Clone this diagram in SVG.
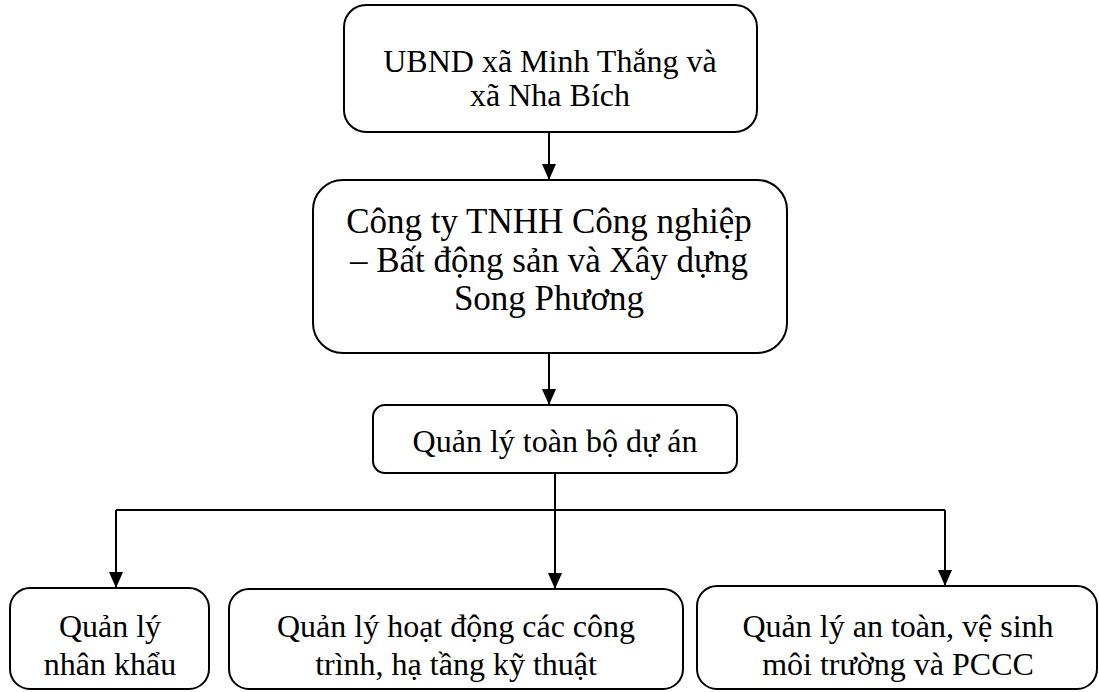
<svg xmlns="http://www.w3.org/2000/svg" width="1099" height="692" viewBox="0 0 1099 692">
  <style>
    .box { fill: #ffffff; stroke: #000000; stroke-width: 2; }
    text { font-family: 'Liberation Serif', 'DejaVu Serif', serif; font-size: 32px; fill: #000000; text-anchor: middle; }
    text.t2 { font-size: 35px; }
    .conn { fill: none; stroke: #000000; stroke-width: 2; }
  </style>
  <defs>
    <marker id="arr" viewBox="0 0 16 14" refX="16" refY="7" markerWidth="16" markerHeight="14" markerUnits="userSpaceOnUse" orient="auto">
      <path d="M0,0 L16,7 L0,14 z" fill="#000000"/>
    </marker>
  </defs>
  <rect width="1099" height="692" fill="#ffffff"/>

  <g id="n-ubnd" font-family="Liberation Serif, serif">
    <rect class="box" x="344" y="5" width="413" height="127" rx="22"/>
    <text x="550" y="72">UBND xã Minh Thắng và</text>
    <text x="550" y="106">xã Nha Bích</text>
  </g>

  <g id="n-congty" font-family="Liberation Serif, serif">
    <rect class="box" x="313" y="180" width="474" height="173" rx="30"/>
    <text class="t2" x="549" y="233">Công ty TNHH Công nghiệp</text>
    <text class="t2" x="549" y="272">– Bất động sản và Xây dựng</text>
    <text class="t2" x="549" y="310">Song Phương</text>
  </g>

  <g id="n-quanly" font-family="Liberation Serif, serif">
    <rect class="box" x="373" y="405" width="364" height="68" rx="12"/>
    <text x="555" y="452">Quản lý toàn bộ dự án</text>
  </g>

  <g id="n-nhankhau" font-family="Liberation Serif, serif">
    <rect class="box" x="10" y="588" width="199" height="101" rx="20"/>
    <text x="110" y="637">Quản lý</text>
    <text x="110" y="675">nhân khẩu</text>
  </g>

  <g id="n-hoatdong" font-family="Liberation Serif, serif">
    <rect class="box" x="229" y="589" width="454" height="100" rx="20"/>
    <text x="456" y="637">Quản lý hoạt động các công</text>
    <text x="456" y="675">trình, hạ tầng kỹ thuật</text>
  </g>

  <g id="n-antoan" font-family="Liberation Serif, serif">
    <rect class="box" x="697" y="586" width="400" height="103" rx="20"/>
    <text x="898" y="637">Quản lý an toàn, vệ sinh</text>
    <text x="898" y="675">môi trường và PCCC</text>
  </g>

  <g id="connectors">
    <path class="conn" d="M549,133 L549,180" marker-end="url(#arr)"/>
    <path class="conn" d="M549,353 L549,405" marker-end="url(#arr)"/>
    <path class="conn" d="M555,473 L555,589" marker-end="url(#arr)"/>
    <path class="conn" d="M116,510 L945,510"/>
    <path class="conn" d="M116,510 L116,588" marker-end="url(#arr)"/>
    <path class="conn" d="M945,510 L945,586" marker-end="url(#arr)"/>
  </g>
</svg>
